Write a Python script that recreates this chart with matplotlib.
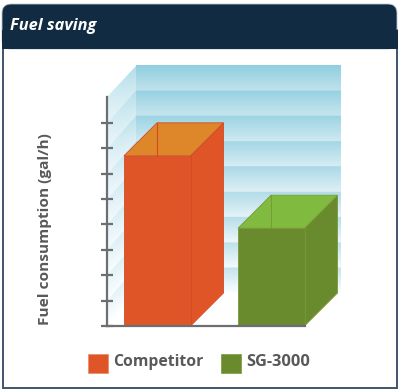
import numpy as np
from matplotlib import pyplot as plt
from matplotlib.colors import to_rgb
from matplotlib.patches import FancyBboxPatch, Polygon, Rectangle

# chart data, values
categories = ["Competitor", "SG-3000"]
fuel_use = [6.7, 3.85]
bar_colors = ["#e05527", "#6a8a2e"]
top_colors = ["#de862a", "#80bb3f"]
edge_colors = ["#d24a26", "#7a9a38"]
ticks = [0, 1, 2, 3, 4, 5, 6, 7, 8]

# pixels of the picture
W, H = 400, 391
left, right, base, top = 107, 340, 326, 97
unit = 25.4
bar_x = [17, 131]
bar_w = 66.5
depth_x = 33
depth_y = 33 / unit
n_bands = 9
wall_h = 8.94
ymax = (base - top) / unit
xmax = right - left

fig = plt.figure(figsize=(4, 3.91), dpi=100)

# frame and header
bg = fig.add_axes([0, 0, 1, 1])
bg.set_xlim(0, W)
bg.set_ylim(H, 0)
bg.axis("off")
bg.add_patch(Rectangle((2.8, 30), 394, 358, fc="white", ec="#3d566b", lw=1.4))
bg.add_patch(FancyBboxPatch((10, 12), 379, 29, boxstyle="round,pad=8,rounding_size=9",
                            fc="#102b42", ec="#b9c4cc", lw=0.6))
bg.add_patch(Rectangle((2, 30), 395.5, 18.5, fc="#102b42", ec="none"))
bg.text(10, 26, "Fuel saving", color="white", fontsize=11.8, fontweight="bold",
        fontstyle="italic", family="Open Sans", va="center", ha="left")
bg.text(45, 229, "Fuel consumption (gal/h)", color="#58595b", fontsize=11.1, fontweight="bold",
        family="Open Sans", rotation=90, va="center", ha="center")

# legend
for name, col, sx, tx, fs in zip(categories, bar_colors, [88, 221], [113, 246], [11.3, 11.8]):
    bg.add_patch(Rectangle((sx, 354), 20, 19, fc=col, ec="#f08a60" if sx == 88 else "#7a9a38", lw=0.5))
    bg.text(tx, 362, name, color="#58595b", fontsize=fs, fontweight="bold",
            family="Open Sans", va="center", ha="left")

ax = fig.add_axes([left / W, 1 - base / H, xmax / W, (base - top) / H])
ax.patch.set_alpha(0)


def band_colors(frac, level):
    # frac 0 at bottom of a band, level 0 at bottom band
    c1 = np.array(to_rgb("#8fcfe0"))
    c2 = np.array(to_rgb("#c4e3ec"))
    c3 = np.array(to_rgb("#c0e2ec"))
    c4 = np.array(to_rgb("#fcfeff"))
    t = (c2 + (c1 - c2) * level[..., None])
    b = (c4 + (c3 - c4) * level[..., None])
    return b + (t - b) * frac[..., None]


def wall_image(x0, x1, y0, y1, sheared):
    xs = np.linspace(x0, x1, 120)
    ys = np.linspace(y1, y0, 500)
    X, Y = np.meshgrid(xs, ys)
    off = depth_y * (X - x0) / (x1 - x0) if sheared else depth_y
    pos = (Y - off) / (wall_h / n_bands)
    pos = np.clip(pos, 0, n_bands - 1e-6)
    frac = pos - np.floor(pos)
    level = np.floor(pos) / (n_bands - 1)
    rgb = band_colors(frac, level)
    if sheared:
        mix = (0.65 - 0.35 * (X - x0) / (x1 - x0))[..., None]
        rgb = rgb + (1 - rgb) * mix
    return rgb


# back wall
ax.imshow(wall_image(29, xmax, depth_y, depth_y + wall_h, False), origin="upper",
          extent=(29, xmax, depth_y, depth_y + wall_h), aspect="auto", clip_on=False, zorder=1)
# side wall, sheared bands
wall = Polygon([(0, 0), (29, depth_y), (29, depth_y + wall_h), (0, ymax)], closed=True,
               transform=ax.transData, fc="none", ec="none")
ax.add_patch(wall)
im = ax.imshow(wall_image(0, 29, 0, depth_y + wall_h, True), origin="upper",
               extent=(0, 29, 0, depth_y + wall_h), aspect="auto", zorder=1)
im.set_clip_path(wall)
im.set_clip_box(fig.bbox)  # image is cut to the axes box otherwise

# floor stays white
ax.add_patch(Polygon([(0, 0), (29, depth_y), (xmax, depth_y), (xmax, 0)], closed=True,
                     fc="white", ec="none", zorder=1.5, clip_on=False))

# bars
ax.bar(bar_x, fuel_use, width=bar_w, align="edge", color=bar_colors, zorder=4,
       edgecolor=edge_colors, linewidth=0.6)
for x, v, c, tc, ec in zip(bar_x, fuel_use, bar_colors, top_colors, edge_colors):
    x1 = x + bar_w
    ax.add_patch(Polygon([(x1, 0), (x1 + depth_x, depth_y), (x1 + depth_x, v + depth_y), (x1, v)],
                         closed=True, fc=c, ec=ec, lw=0.6, zorder=3, clip_on=False))
    ax.add_patch(Polygon([(x, v), (x + depth_x, v + depth_y), (x1 + depth_x, v + depth_y), (x1, v)],
                         closed=True, fc=tc, ec=ec, lw=0.6, zorder=3, clip_on=False))
    # inner back edge
    ax.plot([x + depth_x, x + depth_x], [v, v + depth_y], color=ec, lw=0.8, zorder=3.5, clip_on=False)

ax.set_xlim(0, xmax)
ax.set_ylim(0, ymax)
ax.set_xticks([])
ax.set_yticks(ticks)
ax.set_yticklabels([])
ax.tick_params(axis="y", direction="inout", length=8, width=1.6, color="#6d6e71")
for s in ["top", "right"]:
    ax.spines[s].set_visible(False)
ax.spines["left"].set_color("#6d6e71")
ax.spines["left"].set_linewidth(1.6)
ax.spines["bottom"].set_color("#6d6e71")
ax.spines["bottom"].set_linewidth(1.6)
ax.spines["bottom"].set_bounds(0, bar_x[1] + bar_w)
for s in ax.spines.values():
    s.set_zorder(6)

fig.savefig("out.png", dpi=100)
